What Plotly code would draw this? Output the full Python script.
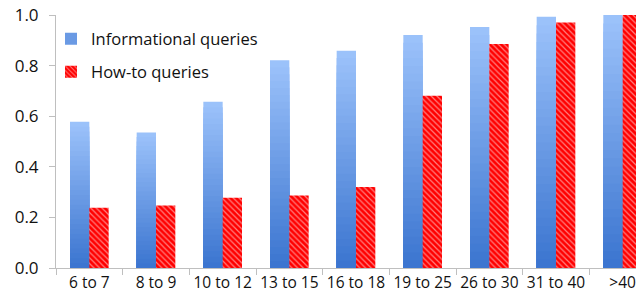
import plotly.graph_objects as go

categories = ["6 to 7", "8 to 9", "10 to 12", "13 to 15", "16 to 18",
              "19 to 25", "26 to 30", "31 to 40", ">40"]
informational = [0.578, 0.536, 0.657, 0.821, 0.859, 0.921, 0.953, 0.993, 1.0]
howto = [0.238, 0.247, 0.278, 0.287, 0.320, 0.681, 0.885, 0.970, 1.0]
ytick_vals = [0.0, 0.2, 0.4, 0.6, 0.8, 1.0]
ytick_text = ["0.0", "0.2", "0.4", "0.6", "0.8", "1.0"]

# the page has an 8px body margin, so the figure is drawn 8px in from the corner
W, H = 636, 295
FONT = "Open Sans"

fig = go.Figure()

# Gradient for informational bars: overlapping layers, light at top, dark at bottom
N = 30
top_c = (157, 195, 251)
bot_c = (58, 116, 207)
for i in range(N):
    frac = (N - i) / N          # layer height fraction
    t = (N - i - 0.5) / N       # 1 = top colour, 0 = bottom colour
    c = tuple(round(bot_c[k] + (top_c[k] - bot_c[k]) * t) for k in range(3))
    fig.add_trace(go.Bar(
        x=categories,
        y=[v * frac for v in informational],
        offsetgroup="info",
        name="Informational queries",
        marker=dict(color="rgb(%d,%d,%d)" % c, line=dict(width=0)),
        showlegend=(i == N // 2),
        legend="legend",
        hoverinfo="skip",
    ))

fig.add_trace(go.Bar(
    x=categories,
    y=howto,
    offsetgroup="howto",
    name="How-to queries",
    marker=dict(
        color="#ff0000",
        line=dict(width=0),
        pattern=dict(shape="\\", fgcolor="#ffffff", bgcolor="#ff0000",
                     size=4, solidity=0.3, fillmode="overlay"),
    ),
    legend="legend2",
))

fig.update_layout(
    width=W, height=H,
    margin=dict(l=48, r=0, t=7, b=35, autoexpand=False),
    paper_bgcolor="white", plot_bgcolor="white",
    barmode="group", bargap=0.42, bargroupgap=0,
    font=dict(family=FONT, size=15, color="#111111"),
    legend=dict(xref="container", yref="container", x=(51 - 8) / W, y=1 - (39 - 8) / H,
                xanchor="left", yanchor="middle", bgcolor="rgba(0,0,0,0)",
                font=dict(size=16.5)),
    legend2=dict(xref="container", yref="container", x=(51 - 8) / W, y=1 - (72 - 8) / H,
                 xanchor="left", yanchor="middle", bgcolor="rgba(0,0,0,0)",
                 font=dict(size=16.5)),
    xaxis=dict(
        type="category", range=[-0.5, 8.32],
        showline=True, linecolor="#bfbfbf", linewidth=1,
        ticks="outside", tickson="boundaries", ticklen=6, tickcolor="#bfbfbf",
        showgrid=False, zeroline=False, tickangle=0,
        tickfont=dict(size=15.5), ticklabeloverflow="allow",
    ),
    yaxis=dict(
        range=[0, 1.0],
        tickvals=ytick_vals, ticktext=ytick_text,
        showline=True, linecolor="#bfbfbf", linewidth=1,
        ticks="outside", ticklen=6, tickcolor="#bfbfbf",
        showgrid=False, zeroline=False,
        tickfont=dict(size=17), ticklabelstandoff=7,
        ticklabeloverflow="allow",
    ),
)

fig.write_html("out.html")
